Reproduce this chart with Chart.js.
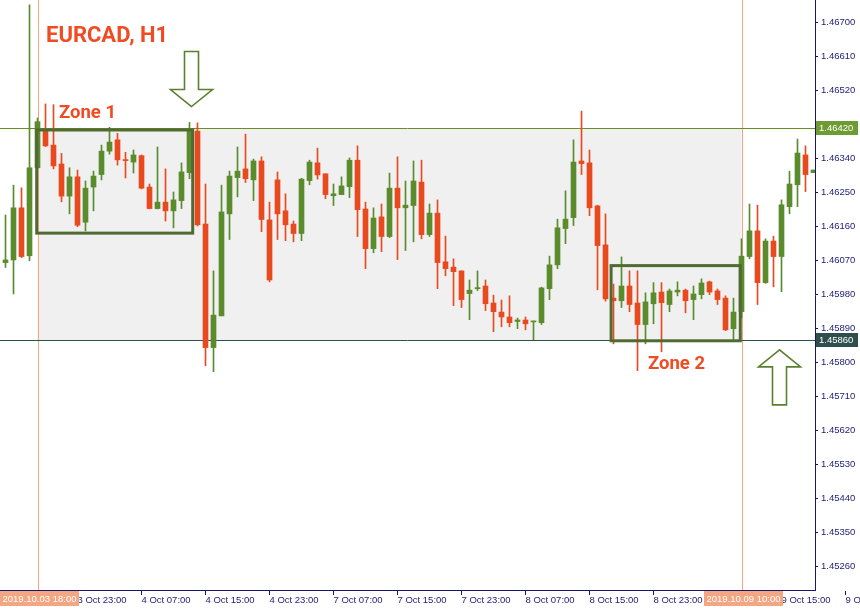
<!DOCTYPE html>
<html>
<head>
<meta charset="utf-8">
<script src="https://cdn.jsdelivr.net/npm/chart.js@4.4.1/dist/chart.umd.min.js"></script>
<style>
  html, body { margin: 0; padding: 0; background: #ffffff; }
  #wrap { position: relative; width: 860px; height: 611px; }
</style>
</head>
<body>
<div id="wrap"><canvas id="c" width="860" height="611"></canvas></div>
<script>
// ---------- DATA (EURCAD H1, bars from 3 Oct 14:00) ----------
const opens = [
1.46065,1.46072,1.46210,1.46083,1.46316,1.46413,1.46376,1.46326,1.46241,1.46292,
1.46172,1.46265,1.46298,1.46360,1.46390,1.46337,1.46331,1.46348,1.46265,1.46208,
1.46225,1.46202,1.46229,1.46303,1.46413,1.46167,1.45840,1.45924,1.46194,1.46290,
1.46313,1.46284,1.46334,1.46178,1.46284,1.46202,1.46167,1.46142,1.46282,1.46329,
1.46300,1.46242,1.46245,1.46266,1.46336,1.46207,1.46102,1.46186,1.46134,1.46262,
1.46210,1.46216,1.46278,1.46139,1.46196,1.46067,1.46053,1.46043,1.45983,1.45996,
1.46003,1.45958,1.45934,1.45921,1.45909,1.45913,1.45908,1.45906,1.45996,1.46059,
1.46155,1.46184,1.46334,1.46329,1.46215,1.46112,1.45971,1.45964,1.46003,1.45958,
1.45901,1.45956,1.45987,1.45954,1.45987,1.45992,1.45967,1.45980,1.46014,1.45990,
1.45971,1.45890,1.45935,1.46081,1.46149,1.46012,1.46122,1.46081,1.46213,1.46271,
1.46350,1.46303];
const highs = [
1.46191,1.46270,1.46263,1.46747,1.46448,1.46485,1.46483,1.46354,1.46316,1.46310,
1.46281,1.46307,1.46376,1.46423,1.46407,1.46357,1.46363,1.46350,1.46273,1.46371,
1.46313,1.46252,1.46329,1.46436,1.46435,1.46273,1.46043,1.46270,1.46307,1.46371,
1.46405,1.46339,1.46345,1.46225,1.46305,1.46247,1.46175,1.46288,1.46336,1.46368,
1.46300,1.46273,1.46292,1.46342,1.46374,1.46225,1.46210,1.46220,1.46302,1.46345,
1.46281,1.46334,1.46336,1.46220,1.46231,1.46135,1.46075,1.46043,1.46019,1.46043,
1.46019,1.45979,1.45966,1.45977,1.45918,1.45921,1.45910,1.46000,1.46082,1.46180,
1.46255,1.46390,1.46466,1.46363,1.46217,1.46194,1.46008,1.46080,1.46043,1.46043,
1.45985,1.46012,1.46012,1.45995,1.46014,1.45995,1.46003,1.46022,1.46016,1.45995,
1.45977,1.45971,1.46128,1.46220,1.46217,1.46128,1.46135,1.46231,1.46307,1.46392,
1.46374,1.46310];
const lows = [
1.46052,1.45982,1.46078,1.46070,1.46315,1.46372,1.46313,1.46226,1.46194,1.46160,
1.46149,1.46202,1.46284,1.46352,1.46323,1.46289,1.46302,1.46260,1.46207,1.46207,
1.46175,1.46157,1.46208,1.46287,1.46162,1.45792,1.45776,1.45924,1.46126,1.46239,
1.46277,1.46229,1.46147,1.46014,1.46126,1.46123,1.46120,1.46123,1.46271,1.46286,
1.46234,1.46216,1.46245,1.46237,1.46134,1.46049,1.46091,1.46094,1.46131,1.46073,
1.46097,1.46120,1.46128,1.46134,1.45996,1.46030,1.45951,1.45946,1.45914,1.45991,
1.45938,1.45882,1.45895,1.45895,1.45890,1.45887,1.45861,1.45901,1.45967,1.46049,
1.46115,1.46163,1.46298,1.46189,1.45993,1.45963,1.45850,1.45946,1.45935,1.45779,
1.45850,1.45903,1.45829,1.45935,1.45977,1.45932,1.45914,1.45969,1.45980,1.45954,
1.45885,1.45861,1.45919,1.46075,1.45954,1.46010,1.46001,1.45988,1.46194,1.46213,
1.46253,1.46303];
const closes = [
1.46072,1.46210,1.46081,1.46316,1.46438,1.46374,1.46321,1.46241,1.46292,1.46164,
1.46262,1.46294,1.46360,1.46384,1.46337,1.46335,1.46350,1.46262,1.46208,1.46225,
1.46202,1.46231,1.46305,1.46418,1.46165,1.45840,1.45926,1.46199,1.46294,1.46307,
1.46287,1.46334,1.46179,1.46019,1.46194,1.46165,1.46142,1.46286,1.46331,1.46297,
1.46245,1.46247,1.46268,1.46336,1.46205,1.46102,1.46183,1.46134,1.46262,1.46210,
1.46217,1.46281,1.46139,1.46196,1.46065,1.46049,1.46041,1.45967,1.45992,1.45998,
1.45956,1.45935,1.45921,1.45906,1.45913,1.45903,1.45909,1.45998,1.46059,1.46157,
1.46180,1.46331,1.46327,1.46210,1.46110,1.45969,1.45964,1.46003,1.45954,1.45901,
1.45961,1.45985,1.45959,1.45990,1.45992,1.45964,1.45982,1.46011,1.45987,1.45967,
1.45887,1.45934,1.46082,1.46149,1.46012,1.46122,1.46081,1.46218,1.46273,1.46355,
1.46298,1.46310];

// x tick labels (bar index -> time label)
const xTickIndex  = [1, 9, 17, 25, 33, 41, 49, 57, 65, 73, 81, 89, 97, 105];
const xTickLabels = ['3 Oct 15:00','3 Oct 23:00','4 Oct 07:00','4 Oct 15:00','4 Oct 23:00',
  '7 Oct 07:00','7 Oct 15:00','7 Oct 23:00','8 Oct 07:00','8 Oct 15:00','8 Oct 23:00',
  '9 Oct 07:00','9 Oct 15:00','9 Oct 23:00'];
// y tick values
const yTickValues = [1.46700,1.46610,1.46520,1.46430,1.46340,1.46250,1.46160,1.46070,
  1.45980,1.45890,1.45800,1.45710,1.45620,1.45530,1.45440,1.45350,1.45260];

// annotations
const rangeHigh = 1.46420, rangeLow = 1.45860;
const markerStart = {idx: 4, label: '2019.10.03 18:00'};
const markerEnd   = {idx: 92, label: '2019.10.09 10:00'};
const zone1 = {x0: 3.9, x1: 23.4, top: 1.46416, bottom: 1.46143, label: 'Zone 1'};
const zone2 = {x0: 75.7, x1: 91.85, top: 1.46057, bottom: 1.45858, label: 'Zone 2'};
const titleText = 'EURCAD, H1';

// ---------- STYLE ----------
const BULL = '#5a8b2c', BEAR = '#e9491e';
const AXIS = '#16166c', TXT = '#22227a';
const SALMON = '#f4a582', OLIVE = '#6b8e23', SLATE = '#2f4f4f', BOXC = '#506b32';
const tickFont = {family: 'Liberation Sans', size: 9.5};

const yMax = 1.467601, yMin = 1.451983;
const xMin = -0.6875, xMax = 101.1875;

const bodyData = opens.map((o, i) => ({x: i, y: [o, closes[i]]}));
const wickData = lows.map((l, i) => ({x: i, y: [l, highs[i]]}));
const colors = opens.map((o, i) => closes[i] >= o ? BULL : BEAR);

function arrow(ctx, cx, tipY, dir) {
  const headW = 42, headH = 17, shaftW = 14, shaftL = 38;
  const s = dir; // 1 = pointing down, -1 = pointing up
  const baseY = tipY - s * headH;
  const endY = baseY - s * shaftL;
  ctx.beginPath();
  ctx.moveTo(cx, tipY);
  ctx.lineTo(cx - headW / 2, baseY);
  ctx.lineTo(cx - shaftW / 2, baseY);
  ctx.lineTo(cx - shaftW / 2, endY);
  ctx.lineTo(cx + shaftW / 2, endY);
  ctx.lineTo(cx + shaftW / 2, baseY);
  ctx.lineTo(cx + headW / 2, baseY);
  ctx.closePath();
  ctx.fillStyle = '#ffffff';
  ctx.fill();
  ctx.lineWidth = 1.6;
  ctx.strokeStyle = '#5b7f2f';
  ctx.stroke();
}

const overlay = {
  id: 'overlay',
  beforeDatasetsDraw(chart) {
    const {ctx, chartArea: a, scales: {x, y}} = chart;
    ctx.save();
    const rx0 = x.getPixelForValue(markerStart.idx), rx1 = x.getPixelForValue(markerEnd.idx);
    const ry0 = y.getPixelForValue(rangeHigh), ry1 = y.getPixelForValue(rangeLow);
    ctx.fillStyle = '#f0f0f0';
    ctx.fillRect(rx0, ry0, rx1 - rx0, ry1 - ry0);
    ctx.lineWidth = 1;
    ctx.strokeStyle = SALMON;
    [rx0, rx1].forEach(px => {
      const p = Math.round(px) + 0.5;
      ctx.beginPath(); ctx.moveTo(p, a.top); ctx.lineTo(p, a.bottom); ctx.stroke();
    });
    ctx.strokeStyle = OLIVE;
    let p = Math.round(ry0) + 0.5;
    ctx.beginPath(); ctx.moveTo(a.left, p); ctx.lineTo(a.right, p); ctx.stroke();
    ctx.strokeStyle = SLATE;
    p = Math.round(ry1) + 0.5;
    ctx.beginPath(); ctx.moveTo(a.left, p); ctx.lineTo(a.right, p); ctx.stroke();
    ctx.restore();
  },
  afterDatasetsDraw(chart) {
    const {ctx, chartArea: a, scales: {x, y}} = chart;
    ctx.save();
    ctx.beginPath(); ctx.rect(a.left, a.top, a.right - a.left, a.bottom - a.top); ctx.clip();
    ctx.lineWidth = 3;
    ctx.strokeStyle = BOXC;
    [zone1, zone2].forEach(z => {
      const x0 = x.getPixelForValue(z.x0), x1 = x.getPixelForValue(z.x1);
      const y0 = y.getPixelForValue(z.top), y1 = y.getPixelForValue(z.bottom);
      ctx.strokeRect(x0, y0, x1 - x0, y1 - y0);
    });
    // arrows
    arrow(ctx, x.getPixelForValue(23.25), y.getPixelForValue(1.46478), 1);
    arrow(ctx, x.getPixelForValue(96.75), y.getPixelForValue(1.45834), -1);
    // texts
    ctx.fillStyle = '#f04b22';
    ctx.textBaseline = 'alphabetic';
    ctx.textAlign = 'left';
    ctx.font = 'bold 22px Roboto';
    ctx.fillText(titleText, 46, 41.5);
    ctx.font = 'bold 18.5px Roboto';
    ctx.fillText(zone1.label, 59, 117.5);
    ctx.fillText(zone2.label, 648, 368.5);
    ctx.restore();
  },
  afterDraw(chart) {
    const {ctx, chartArea: a, scales: {x, y}} = chart;
    ctx.save();
    ctx.font = '9.5px "Liberation Sans"';
    ctx.textBaseline = 'middle';
    ctx.textAlign = 'left';
    // price highlight labels
    const hl = [[rangeHigh, '#6f9c32'], [rangeLow, SLATE]];
    hl.forEach(([v, c]) => {
      const py = y.getPixelForValue(v);
      ctx.fillStyle = c;
      ctx.fillRect(a.right + 1, Math.round(py) - 7, 42, 14);
      ctx.fillStyle = '#ffffff';
      ctx.fillText(v.toFixed(5), a.right + 4, Math.round(py) + 0.5);
    });
    // time highlight labels
    ctx.textAlign = 'center';
    [markerStart, markerEnd].forEach(m => {
      const px = x.getPixelForValue(m.idx);
      ctx.fillStyle = SALMON;
      ctx.fillRect(Math.round(px) - 38, a.bottom + 1, 79, 15);
      ctx.fillStyle = '#ffffff';
      ctx.fillText(m.label, Math.round(px) + 1.5, a.bottom + 9);
    });
    ctx.restore();
  }
};

new Chart(document.getElementById('c'), {
  type: 'bar',
  data: {
    datasets: [
      {data: bodyData, backgroundColor: colors, barThickness: 5, grouped: false, minBarLength: 1, borderWidth: 0},
      {data: wickData, backgroundColor: colors, barThickness: 1, grouped: false, borderWidth: 0}
    ]
  },
  options: {
    responsive: false,
    animation: false,
    devicePixelRatio: 1,
    layout: {padding: 0},
    plugins: {legend: {display: false}, tooltip: {enabled: false}},
    scales: {
      x: {
        type: 'linear', position: 'bottom', min: xMin, max: xMax, offset: false,
        grid: {display: true, offset: false, drawOnChartArea: false, drawTicks: true, tickLength: 5, color: AXIS},
        border: {display: true, color: AXIS, width: 1},
        ticks: {
          autoSkip: false, maxRotation: 0, minRotation: 0, align: 'start', padding: 0,
          color: TXT, font: tickFont,
          callback: (v) => { const k = xTickIndex.indexOf(v); return k >= 0 ? xTickLabels[k] : ''; }
        },
        afterBuildTicks: (s) => { s.ticks = xTickIndex.map(v => ({value: v})); },
        afterFit: (s) => { s.height = 21; s.paddingLeft = 0; s.paddingRight = 0; }
      },
      y: {
        type: 'linear', position: 'right', min: yMin, max: yMax,
        grid: {display: true, drawOnChartArea: false, drawTicks: true, tickLength: 3, color: AXIS},
        border: {display: true, color: AXIS, width: 1},
        ticks: {padding: 3, color: TXT, font: tickFont, callback: (v) => Number(v).toFixed(5)},
        afterBuildTicks: (s) => { s.ticks = yTickValues.map(v => ({value: v})); },
        afterFit: (s) => { s.width = 45; s.paddingTop = 0; s.paddingBottom = 0; }
      }
    }
  },
  plugins: [overlay]
});
</script>
</body>
</html>
